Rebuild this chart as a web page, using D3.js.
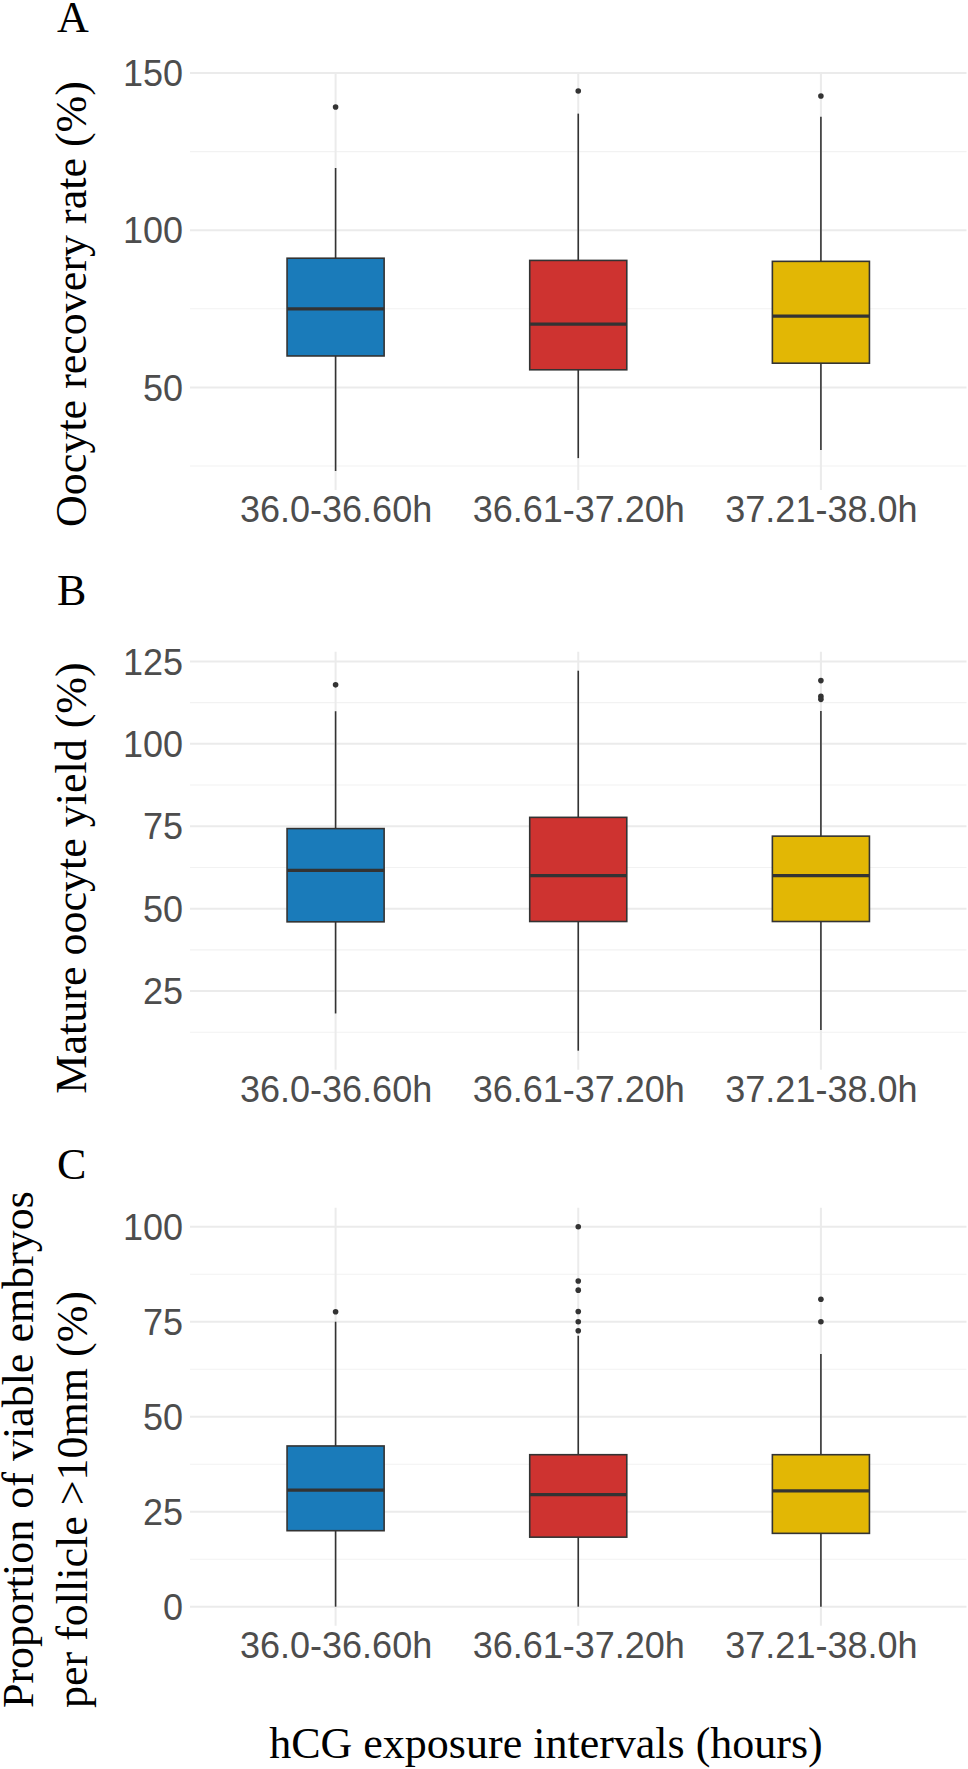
<!DOCTYPE html>
<html>
<head>
<meta charset="utf-8">
<script src="https://cdn.jsdelivr.net/npm/d3@7"></script>
<style>
  html, body { margin: 0; padding: 0; background: #fff; }
  svg { display: block; }
</style>
</head>
<body>
<div id="chart"></div>
<script>
// ---------- DATA ----------
const categories = ["36.0-36.60h", "36.61-37.20h", "37.21-38.0h"];
const fillColors = ["#1A7BBA", "#CE3330", "#E2B705"];

// Panel A: Oocyte recovery rate (%)
const recoveryLower   = [23.4, 27.5, 30.1];
const recoveryQ1      = [60.0, 55.6, 57.7];
const recoveryMedian  = [75.0, 70.1, 72.7];
const recoveryQ3      = [91.1, 90.4, 90.1];
const recoveryUpper   = [119.8, 137.1, 136.1];
const recoveryOutliers = [[139.2], [144.3], [142.7]];
const recoveryMajorTicks = [50, 100, 150];
const recoveryMinorTicks = [25, 75, 125];

// Panel B: Mature oocyte yield (%)
const yieldLower   = [18.2, 6.9, 13.2];
const yieldQ1      = [46.0, 46.1, 46.1];
const yieldMedian  = [61.6, 60.0, 60.0];
const yieldQ3      = [74.3, 77.7, 72.0];
const yieldUpper   = [109.9, 122.2, 110.0];
const yieldOutliers = [[117.9], [], [119.2, 114.4, 113.5]];
const yieldMajorTicks = [25, 50, 75, 100, 125];
const yieldMinorTicks = [12.5, 37.5, 62.5, 87.5, 112.5];

// Panel C: Proportion of viable embryos per follicle >10mm (%)
const embryoLower   = [0, 0, 0];
const embryoQ1      = [20.0, 18.3, 19.3];
const embryoMedian  = [30.7, 29.5, 30.5];
const embryoQ3      = [42.3, 40.0, 40.0];
const embryoUpper   = [75.0, 71.3, 66.5];
const embryoOutliers = [[77.6], [100, 85.7, 83.3, 77.7, 75.0, 72.6], [80.9, 75.0]];
const embryoMajorTicks = [0, 25, 50, 75, 100];
const embryoMinorTicks = [12.5, 37.5, 62.5, 87.5];

const panelLabels = ["A", "B", "C"];
const yTitles = [["Oocyte recovery rate (%)"], ["Mature oocyte yield (%)"],
                 ["Proportion of viable embryos", "per follicle >10mm (%)"]];
const xTitle = "hCG exposure intervals (hours)";

// ---------- LAYOUT ----------
const W = 968, H = 1769;
const plotLeft = 190, plotRight = 966.5;
const panelHeight = 418;
const panelTops = [72, 651.7, 1207.7];
const serif = "'Liberation Serif', 'Times New Roman', serif";
const sans = "'Liberation Sans', Arial, Helvetica, sans-serif";

function buildStats(lower, q1, med, q3, upper, outs) {
  return categories.map((c, i) => ({
    cat: c, color: fillColors[i], lo: lower[i], q1: q1[i], med: med[i],
    q3: q3[i], hi: upper[i], out: outs[i]
  }));
}

const panels = [
  { stats: buildStats(recoveryLower, recoveryQ1, recoveryMedian, recoveryQ3, recoveryUpper, recoveryOutliers),
    major: recoveryMajorTicks, minor: recoveryMinorTicks },
  { stats: buildStats(yieldLower, yieldQ1, yieldMedian, yieldQ3, yieldUpper, yieldOutliers),
    major: yieldMajorTicks, minor: yieldMinorTicks },
  { stats: buildStats(embryoLower, embryoQ1, embryoMedian, embryoQ3, embryoUpper, embryoOutliers),
    major: embryoMajorTicks, minor: embryoMinorTicks }
];

// title placement (rotated y titles): end (bottom) y and baseline x per line
const yTitleLayout = [
  { anchor: "middle", pos: 304, xs: [86] },
  { anchor: "middle", pos: 878, xs: [86] },
  { anchor: "start",  pos: 1708, xs: [33, 87] }
];

const svg = d3.select("#chart").append("svg")
  .attr("width", W).attr("height", H)
  .attr("viewBox", `0 0 ${W} ${H}`);

const x = d3.scalePoint().domain(categories).range([plotLeft, plotRight]).padding(0.6);
const boxW = x.step() * 0.4;

panels.forEach((p, pi) => {
  const top = panelTops[pi], bottom = top + panelHeight;
  const allVals = p.stats.flatMap(s => [s.lo, s.hi, ...s.out]);
  const mn = d3.min(allVals), mx = d3.max(allVals);
  const pad = (mx - mn) * 0.05;
  const y = d3.scaleLinear().domain([mn - pad, mx + pad]).range([bottom, top]);

  const g = svg.append("g");

  // minor grid
  g.selectAll("line.minor").data(p.minor).join("line")
    .attr("x1", plotLeft).attr("x2", plotRight)
    .attr("y1", d => y(d)).attr("y2", d => y(d))
    .attr("stroke", "#F2F2F2").attr("stroke-width", 1.1);
  // major grid
  g.selectAll("line.major").data(p.major).join("line")
    .attr("x1", plotLeft).attr("x2", plotRight)
    .attr("y1", d => y(d)).attr("y2", d => y(d))
    .attr("stroke", "#EBEBEB").attr("stroke-width", 2);
  // vertical grid
  g.selectAll("line.vgrid").data(categories).join("line")
    .attr("x1", d => x(d)).attr("x2", d => x(d))
    .attr("y1", top).attr("y2", bottom)
    .attr("stroke", "#EBEBEB").attr("stroke-width", 2);

  // y axis tick labels
  const yAxis = d3.axisLeft(y).tickValues(p.major).tickSize(0).tickPadding(0);
  const ya = g.append("g").attr("transform", `translate(${plotLeft - 7},0)`).call(yAxis);
  ya.select(".domain").remove();
  ya.selectAll("text").attr("font-family", sans).attr("font-size", 36)
    .attr("fill", "#4D4D4D").attr("dy", "0.35em");

  // x axis tick labels
  const xAxis = d3.axisBottom(x).tickSize(0).tickPadding(0);
  const xa = g.append("g").attr("transform", `translate(0,${bottom + 32})`).call(xAxis);
  xa.select(".domain").remove();
  xa.selectAll("text").attr("font-family", sans).attr("font-size", 36)
    .attr("fill", "#4D4D4D").attr("dy", 0);

  // boxes
  const bx = g.selectAll("g.box").data(p.stats).join("g");
  bx.append("line")
    .attr("x1", d => x(d.cat)).attr("x2", d => x(d.cat))
    .attr("y1", d => y(d.q3)).attr("y2", d => y(d.hi))
    .attr("stroke", "#333").attr("stroke-width", 1.6);
  bx.append("line")
    .attr("x1", d => x(d.cat)).attr("x2", d => x(d.cat))
    .attr("y1", d => y(d.q1)).attr("y2", d => y(d.lo))
    .attr("stroke", "#333").attr("stroke-width", 1.6);
  bx.append("rect")
    .attr("x", d => x(d.cat) - boxW / 2).attr("width", boxW)
    .attr("y", d => y(d.q3)).attr("height", d => y(d.q1) - y(d.q3))
    .attr("fill", d => d.color).attr("stroke", "#333").attr("stroke-width", 1.6);
  bx.append("line")
    .attr("x1", d => x(d.cat) - boxW / 2).attr("x2", d => x(d.cat) + boxW / 2)
    .attr("y1", d => y(d.med)).attr("y2", d => y(d.med))
    .attr("stroke", "#333").attr("stroke-width", 3.2);
  bx.selectAll("circle").data(d => d.out.map(v => ({ cat: d.cat, v }))).join("circle")
    .attr("cx", d => x(d.cat)).attr("cy", d => y(d.v)).attr("r", 2.8)
    .attr("fill", "#333");

  // panel label
  svg.append("text").attr("x", 57).attr("y", [32, 605, 1179][pi])
    .attr("font-family", serif).attr("font-size", 44).attr("fill", "#000")
    .text(panelLabels[pi]);

  // y title
  const lay = yTitleLayout[pi];
  yTitles[pi].forEach((t, li) => {
    svg.append("text")
      .attr("transform", `translate(${lay.xs[li]},${lay.pos}) rotate(-90)`)
      .attr("text-anchor", lay.anchor)
      .attr("font-family", serif).attr("font-size", 44).attr("fill", "#000")
      .text(t);
  });
});

// x title
svg.append("text").attr("x", 546).attr("y", 1758).attr("text-anchor", "middle")
  .attr("font-family", serif).attr("font-size", 44).attr("fill", "#000")
  .text(xTitle);
</script>
</body>
</html>
